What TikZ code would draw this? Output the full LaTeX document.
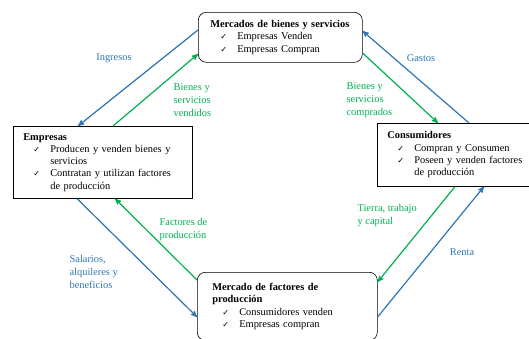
\documentclass[tikz,border=0pt]{standalone}
\usepackage{fontspec}
\setmainfont{Liberation Serif}
\newfontfamily\symfont{DejaVu Sans}
\usepackage{tikz}
\usetikzlibrary{arrows}

\definecolor{flowblue}{RGB}{46,117,182}
\definecolor{flowgreen}{RGB}{0,176,80}
\newcommand{\chk}[1]{\hspace*{10pt}\makebox[17pt][l]{{\symfont\fontsize{8}{8}\selectfont ✓}}#1}
\newcommand{\cont}[1]{\hspace*{27pt}#1}

\begin{document}
\begin{tikzpicture}[x=1pt,y=-1pt,->,>=stealth',line width=1.2pt,
	box node/.style={draw=black,line width=0.6pt,anchor=north west,inner ysep=0pt,align=left,font=\fontsize{10.4}{12.3}\selectfont},
	flow label/.style={inner sep=0pt,align=left,font=\fontsize{10.4}{13}\selectfont}]

	\useasboundingbox (0,0) rectangle (529,338);

	\node[box node,rounded corners=8pt,inner xsep=12pt,text width=140pt,minimum height=50pt] (mercBS) at (198,12)
		{\textbf{Mercados de bienes y servicios}\\ \chk{Empresas Venden}\\ \chk{Empresas Compran}};
	\node[box node,inner xsep=10pt,text width=159pt,minimum height=72pt] (emp) at (13,126)
		{\textbf{Empresas}\\ \chk{Producen y venden bienes y}\\ \cont{servicios}\\ \chk{Contratan y utilizan factores}\\ \cont{de producción}};
	\node[box node,inner xsep=10pt,text width=140pt,minimum height=63pt] (cons) at (377,123)
		{\textbf{Consumidores}\\ \chk{Compran y Consumen}\\ \chk{Poseen y venden factores}\\ \cont{de producción}};
	\node[box node,rounded corners=8pt,inner xsep=15pt,text width=150pt,minimum height=68pt] (mercFP) at (197,272)
		{\textbf{Mercado de factores de}\\ \textbf{producción}\\ \chk{Consumidores venden}\\ \chk{Empresas compran}};

	\node[flow label,text=flowblue] (ingresos) at (114,58) {Ingresos};
	\node[flow label,text=flowgreen,anchor=west] (vendidos) at (173,100) {Bienes y\\ servicios\\ vendidos};
	\node[flow label,text=flowgreen,anchor=west] (comprados) at (346,100) {Bienes y\\ servicios\\ comprados};
	\node[flow label,text=flowblue] (gastos) at (421,58) {Gastos};
	\node[flow label,text=flowgreen,anchor=west] (factores) at (159,229) {Factores de\\ producción};
	\node[flow label,text=flowblue,anchor=west] (salarios) at (69,272) {Salarios,\\ alquileres y\\ beneficios};
	\node[flow label,text=flowgreen,anchor=west] (tierra) at (357,215.5) {Tierra, trabajo\\ y capital};
	\node[flow label,text=flowblue] (renta) at (462,252) {Renta};

	\path
	([yshift=-18pt]mercBS.north west) edge[flowblue] ([xshift=65pt]emp.north west)
	([xshift=100pt]emp.north west) edge[flowgreen] ([yshift=-42pt]mercBS.north west)
	([yshift=-41pt]mercBS.north east) edge[flowgreen] ([xshift=61pt]cons.north west)
	([xshift=92pt]cons.north west) edge[flowblue] ([yshift=-19pt]mercBS.north east)
	([xshift=78pt]cons.south west) edge[flowgreen] ([yshift=-10pt]mercFP.north east)
	([yshift=-45pt]mercFP.north east) edge[flowblue] ([xshift=107pt]cons.south west)
	([xshift=64pt]emp.south west) edge[flowblue] ([yshift=-45pt]mercFP.north west)
	([yshift=-8pt]mercFP.north west) edge[flowgreen] ([xshift=102pt]emp.south west);
\end{tikzpicture}
\end{document}
